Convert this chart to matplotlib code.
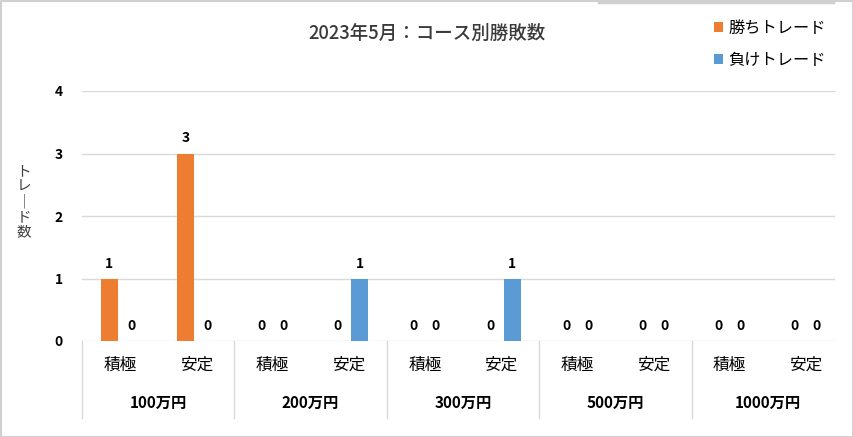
import matplotlib
matplotlib.use("Agg")
import matplotlib.pyplot as plt
from matplotlib.patches import Patch
from matplotlib.lines import Line2D

plt.rcParams['font.family'] = ['Noto Sans CJK JP', 'DejaVu Sans']

courses = ["100万円", "200万円", "300万円", "500万円", "1000万円"]
types = ["積極", "安定"]
wins = [1, 3, 0, 0, 0, 0, 0, 0, 0, 0]
losses = [0, 0, 0, 1, 0, 1, 0, 0, 0, 0]
yticks = [0, 1, 2, 3, 4]
title = "2023年5月：コース別勝敗数"
series_names = ["勝ちトレード", "負けトレード"]
ylabel_chars = ["ト", "レ", "｜", "ド", "数"]

ORANGE = "#ED7D31"
BLUE = "#5B9BD5"
GRID = "#D9D9D9"

W, H = 854, 437
fig = plt.figure(figsize=(W / 100, H / 100), dpi=100)
ax = fig.add_axes([82 / W, (H - 341) / H, 762 / W, 250 / H])

n = len(wins)
xs = [i + 0.5 for i in range(n)]
off = 0.145
bw = 0.224
ax.bar([x - off for x in xs], wins, width=bw, color=ORANGE, zorder=3)
ax.bar([x + off for x in xs], losses, width=bw, color=BLUE, zorder=3)

for x, v in zip(xs, wins):
    ax.annotate(str(v), (x - off, v), xytext=(0, 15), textcoords="offset pixels",
                ha="center", va="center", fontsize=10, fontweight="bold", color="black")
for x, v in zip(xs, losses):
    ax.annotate(str(v), (x + off, v), xytext=(0, 15), textcoords="offset pixels",
                ha="center", va="center", fontsize=10, fontweight="bold", color="black")

ax.set_xlim(0, n)
ax.set_ylim(0, 4)
ax.set_xticks([])
ax.set_yticks(yticks)
ax.set_yticklabels([str(t) for t in yticks], fontsize=10, fontweight="bold", color="black")
ax.tick_params(axis="y", length=0, pad=14)
for s in ax.spines.values():
    s.set_visible(False)
gx = (834 - 82) / 762
for t in yticks:
    ax.axhline(t, xmin=0, xmax=gx, color=GRID, lw=1, zorder=1)

trans = ax.get_xaxis_transform()
# sub category labels
for i, x in enumerate(xs):
    ax.text(x, -0.096, types[i % 2], transform=trans, ha="center", va="center",
            fontsize=12, color="black", clip_on=False)
# group labels
for g, c in enumerate(courses):
    ax.text(2 * g + 1, -0.248, c, transform=trans, ha="center", va="center",
            fontsize=11, fontweight="bold", color="black", clip_on=False)
# separators
for g in range(len(courses)):
    ax.plot([2 * g, 2 * g], [0, -0.308], transform=trans, color=GRID, lw=1, clip_on=False)

# y label (stacked vertical characters)
for k, ch in enumerate(ylabel_chars):
    fig.text(24 / W, 1 - (172 + 15 * k) / H, ch, ha="center", va="center",
             fontsize=10.5, color="#404040")

fig.text(427 / W, 1 - 33 / H, title, ha="center", va="center", fontsize=13.3,
         color="#3A3A3A", fontweight="medium")

handles = [Patch(facecolor=ORANGE, edgecolor="none"), Patch(facecolor=BLUE, edgecolor="none")]
fig.legend(handles, series_names, loc="upper left", bbox_to_anchor=(708 / W, 1 - 13 / H),
           frameon=False, fontsize=11.7, handlelength=0.55, handleheight=0.55,
           handletextpad=0.3, labelspacing=0.95, borderaxespad=0)

# figure border
fig.add_artist(Line2D([0.5 / W, (W - 0.5) / W, (W - 0.5) / W, 0.5 / W, 0.5 / W],
                      [0.5 / H, 0.5 / H, (H - 0.5) / H, (H - 0.5) / H, 0.5 / H],
                      color="#D0D0D0", lw=1.5, transform=fig.transFigure))
fig.add_artist(Line2D([599 / W, 833 / W], [1 - 1.5 / H, 1 - 1.5 / H], color="#D0D0D0",
                      lw=2.5, transform=fig.transFigure))

fig.savefig("out.png", dpi=100)
